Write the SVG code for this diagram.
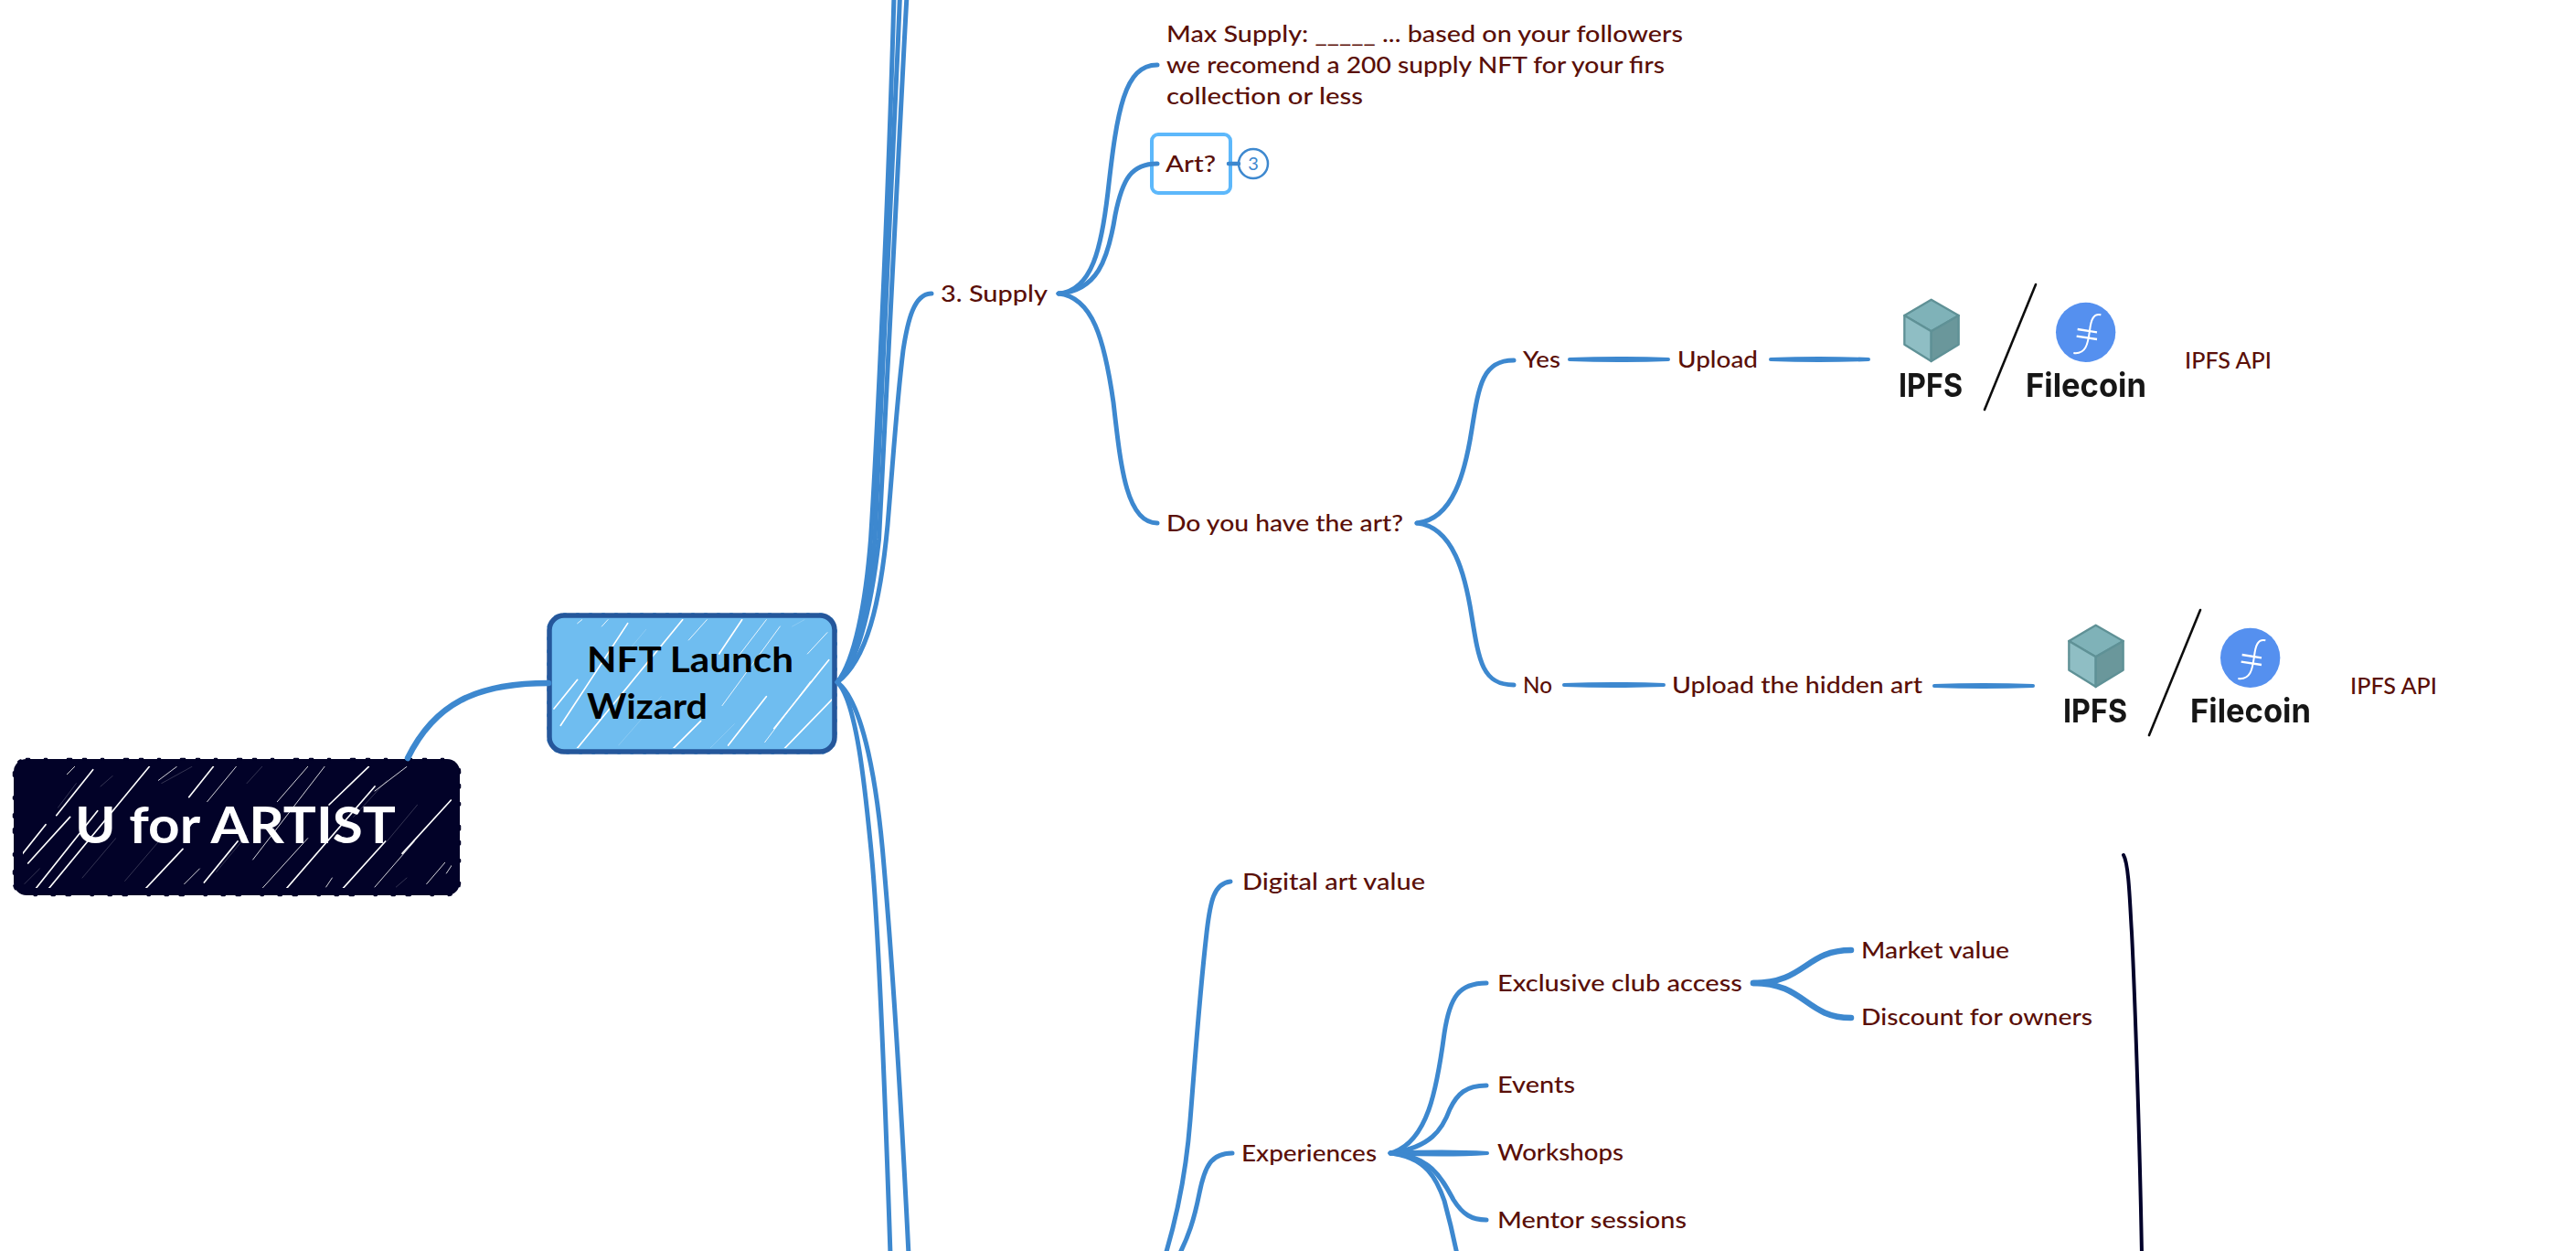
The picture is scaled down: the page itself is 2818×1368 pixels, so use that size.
<svg xmlns="http://www.w3.org/2000/svg" width="2818" height="1368" viewBox="0 0 2818 1368">
<style>
  text { font-family: "Lato", "Liberation Sans", sans-serif; }
  .lbl { font-size: 25px; fill: #5a0f08; font-weight: 500; }
  .ln { fill: none; stroke: #3d88cf; stroke-width: 5; stroke-linecap: round; }
  .th { stroke-width: 6.5; }
  .tp { fill: #3d88cf; stroke: #3d88cf; stroke-width: 4; stroke-linejoin: round; }
  .hatch line { stroke: #fff; stroke-linecap: round; stroke-width: 2.5; }
  .hatch .f { stroke-width: 1.2; opacity: .5; }
  .hatch .b { stroke-width: 5; }
  .logo-t { font-family: "Inter", "Liberation Sans", sans-serif; font-size: 36px; font-weight: 700; fill: #161616; }
</style>
<defs>
  <clipPath id="rootClip"><rect x="25" y="838" width="469" height="133"/></clipPath>
  <clipPath id="wizClip"><rect x="604" y="677" width="306" height="141" rx="14"/></clipPath>
  <filter id="soft" x="-5%" y="-5%" width="110%" height="110%"><feGaussianBlur stdDeviation="0.7"/></filter>
  <g id="ipfsFilecoin" filter="url(#soft)">
    <g transform="translate(2070,305) scale(0.33333)">
      <polygon points="128,68 218,120 128,172 40,120" fill="#7fb2b8" stroke="#5f9196" stroke-width="7" stroke-linejoin="round"/>
      <polygon points="40,120 128,172 128,270 40,215" fill="#8fbec4" stroke="#5f9196" stroke-width="7" stroke-linejoin="round"/>
      <polygon points="218,120 128,172 128,270 218,215" fill="#6a979b" stroke="#5f9196" stroke-width="7" stroke-linejoin="round"/>
      <circle cx="635" cy="175" r="98" fill="#5590ef"/>
      <path d="M685,118 C660,112 652,135 648,170 C642,215 635,248 595,243" fill="none" stroke="#fff" stroke-width="6"/>
      <path d="M608,165 L672,175 M605,188 L672,198" fill="none" stroke="#fff" stroke-width="7"/>
    </g>
    <line x1="2227" y1="311" x2="2171" y2="448" stroke="#111" stroke-width="2.6" stroke-linecap="round"/>
    <text class="logo-t" x="2077" y="434" textLength="70" lengthAdjust="spacingAndGlyphs">IPFS</text>
    <text class="logo-t" x="2216" y="434" textLength="132" lengthAdjust="spacingAndGlyphs">Filecoin</text>
  </g>
</defs>
<rect width="2818" height="1368" fill="#fff"/>

<!-- central topic -->
<g id="node-root">
  <rect x="15" y="830" width="488" height="149" rx="14" fill="#020228"/>
  <rect x="15" y="830" width="488" height="149" rx="14" fill="none" stroke="#020228" stroke-width="2.500" stroke-dasharray="3 17 2 23 4 13" stroke-linecap="round"/>
  <g clip-path="url(#rootClip)">
    <g class="hatch" transform="translate(10,820) scale(0.33333)">
      <line class="b" x1="38" y1="348" x2="120" y2="245"/>
      <line class="b" x1="62" y1="372" x2="200" y2="220"/>
      <line class="b" x1="155" y1="215" x2="275" y2="65"/>
      <line class="b" x1="130" y1="455" x2="460" y2="55"/>
      <line class="b" x1="85" y1="458" x2="290" y2="200"/>
      <line class="b" x1="445" y1="458" x2="570" y2="325"/>
      <line class="b" x1="640" y1="435" x2="750" y2="300"/>
      <line class="b" x1="590" y1="155" x2="670" y2="55"/>
      <line class="b" x1="1050" y1="180" x2="1180" y2="55"/>
      <line class="b" x1="910" y1="455" x2="1200" y2="120"/>
      <line class="b" x1="1095" y1="455" x2="1235" y2="300"/>
      <line class="b" x1="1290" y1="340" x2="1450" y2="165"/>
      <line x1="650" y1="170" x2="745" y2="55"/>
      <line x1="800" y1="360" x2="1035" y2="55"/>
      <line x1="830" y1="455" x2="980" y2="290"/>
      <line x1="880" y1="170" x2="980" y2="55"/>
      <line x1="1200" y1="450" x2="1330" y2="300"/>
      <line x1="1370" y1="440" x2="1430" y2="370"/>
      <line x1="1435" y1="405" x2="1455" y2="375"/>
      <line x1="490" y1="100" x2="550" y2="55"/>
      <line x1="190" y1="80" x2="215" y2="55"/>
      <line x1="1200" y1="135" x2="1305" y2="55"/>
      <line x1="575" y1="440" x2="625" y2="390"/>
      <line x1="1040" y1="450" x2="1060" y2="420"/>
      <line class="f" x1="160" y1="190" x2="220" y2="110"/>
      <line class="f" x1="300" y1="120" x2="340" y2="85"/>
      <line class="f" x1="380" y1="430" x2="500" y2="290"/>
      <line class="f" x1="240" y1="420" x2="350" y2="290"/>
      <line class="f" x1="500" y1="110" x2="600" y2="55"/>
      <line class="f" x1="780" y1="110" x2="830" y2="55"/>
      <line class="f" x1="1130" y1="220" x2="1240" y2="100"/>
      <line class="f" x1="50" y1="440" x2="100" y2="390"/>
      <line class="f" x1="1240" y1="300" x2="1340" y2="180"/>
      <line class="f" x1="680" y1="400" x2="780" y2="280"/>
      <line class="f" x1="1270" y1="450" x2="1305" y2="420"/>
    </g>
  </g>
  <text x="82" y="922" font-size="55" font-weight="700" fill="#fff" textLength="351" lengthAdjust="spacingAndGlyphs">U for ARTIST</text>
</g>

<!-- main branch -->
<g id="node-wizard">
  <rect x="601" y="673" width="312" height="149" rx="16" fill="#6fbdf0"/>
  <rect x="599" y="671" width="316" height="153" rx="18" fill="none" stroke="#6fbdf0" stroke-width="2" stroke-dasharray="2 12" stroke-linecap="round"/>
  <g clip-path="url(#wizClip)">
    <g class="hatch" transform="translate(590,665) scale(0.33333)">
      <line class="b" x1="48" y1="330" x2="125" y2="235"/>
      <line class="b" x1="70" y1="385" x2="290" y2="50"/>
      <line class="b" x1="120" y1="465" x2="470" y2="38"/>
      <line class="b" x1="435" y1="465" x2="530" y2="370"/>
      <line class="b" x1="620" y1="450" x2="745" y2="290"/>
      <line class="b" x1="590" y1="150" x2="665" y2="38"/>
      <line class="b" x1="805" y1="460" x2="960" y2="300"/>
      <line class="b" x1="770" y1="395" x2="950" y2="170"/>
      <line x1="640" y1="175" x2="745" y2="38"/>
      <line x1="490" y1="105" x2="550" y2="38"/>
      <line x1="205" y1="60" x2="225" y2="38"/>
      <line x1="600" y1="320" x2="790" y2="60"/>
      <line x1="880" y1="150" x2="945" y2="80"/>
      <line x1="125" y1="50" x2="140" y2="38"/>
      <line x1="740" y1="440" x2="890" y2="240"/>
      <line class="f" x1="300" y1="130" x2="350" y2="70"/>
      <line class="f" x1="170" y1="400" x2="300" y2="250"/>
      <line class="f" x1="560" y1="460" x2="640" y2="380"/>
      <line class="f" x1="830" y1="60" x2="870" y2="38"/>
      <line class="f" x1="260" y1="450" x2="400" y2="290"/>
    </g>
  </g>
  <rect x="601" y="673" width="312" height="149" rx="16" fill="none" stroke="#25579b" stroke-width="5.500"/>
  <text x="642" y="735" font-size="38" font-weight="700" fill="#000" textLength="226" lengthAdjust="spacingAndGlyphs">NFT Launch</text>
  <text x="642" y="786" font-size="38" font-weight="700" fill="#000" textLength="132" lengthAdjust="spacingAndGlyphs">Wizard</text>
</g>

<!-- subtopics -->
<g id="node-supply"><text class="lbl" x="1029" y="330" textLength="117" lengthAdjust="spacingAndGlyphs">3. Supply</text></g>
<g id="node-maxsupply">
  <text class="lbl" x="1276" y="46" textLength="565" lengthAdjust="spacingAndGlyphs">Max Supply: _____ ... based on your followers</text>
  <text class="lbl" x="1276" y="80" textLength="545" lengthAdjust="spacingAndGlyphs">we recomend a 200 supply NFT for your firs</text>
  <text class="lbl" x="1276" y="114" textLength="215" lengthAdjust="spacingAndGlyphs">collection or less</text>
</g>
<g id="node-art">
  <rect x="1260" y="147" width="86" height="64" rx="7" fill="#fff" stroke="#5db8fb" stroke-width="4"/>
  <text class="lbl" x="1275" y="188" textLength="55" lengthAdjust="spacingAndGlyphs">Art?</text>
</g>
<g id="node-art-count">
  <circle cx="1371" cy="179" r="16" fill="#fff" stroke="#3d88cf" stroke-width="2.500"/>
  <text x="1371" y="186" font-size="20" font-weight="400" fill="#3d88cf" text-anchor="middle">3</text>
</g>
<g id="node-haveart"><text class="lbl" x="1276" y="581" textLength="259" lengthAdjust="spacingAndGlyphs">Do you have the art?</text></g>
<g id="node-yes"><text class="lbl" x="1666" y="402" textLength="41" lengthAdjust="spacingAndGlyphs">Yes</text></g>
<g id="node-upload"><text class="lbl" x="1835" y="402" textLength="88" lengthAdjust="spacingAndGlyphs">Upload</text></g>
<g id="node-storage-a"><use href="#ipfsFilecoin"/></g>
<g id="node-api-a"><text class="lbl" x="2390" y="403" textLength="95" lengthAdjust="spacingAndGlyphs">IPFS API</text></g>
<g id="node-no"><text class="lbl" x="1666" y="758" textLength="32" lengthAdjust="spacingAndGlyphs">No</text></g>
<g id="node-upload-hidden"><text class="lbl" x="1829" y="758" textLength="274" lengthAdjust="spacingAndGlyphs">Upload the hidden art</text></g>
<g id="node-storage-b"><use href="#ipfsFilecoin" transform="translate(180,356)"/></g>
<g id="node-api-b"><text class="lbl" x="2571" y="759" textLength="95" lengthAdjust="spacingAndGlyphs">IPFS API</text></g>
<g id="node-digital"><text class="lbl" x="1359" y="973" textLength="200" lengthAdjust="spacingAndGlyphs">Digital art value</text></g>
<g id="node-experiences"><text class="lbl" x="1358" y="1270" textLength="148" lengthAdjust="spacingAndGlyphs">Experiences</text></g>
<g id="node-club"><text class="lbl" x="1638" y="1084" textLength="268" lengthAdjust="spacingAndGlyphs">Exclusive club access</text></g>
<g id="node-market"><text class="lbl" x="2036" y="1048" textLength="162" lengthAdjust="spacingAndGlyphs">Market value</text></g>
<g id="node-discount"><text class="lbl" x="2036" y="1121" textLength="253" lengthAdjust="spacingAndGlyphs">Discount for owners</text></g>
<g id="node-events"><text class="lbl" x="1638" y="1195" textLength="85" lengthAdjust="spacingAndGlyphs">Events</text></g>
<g id="node-workshops"><text class="lbl" x="1638" y="1269" textLength="138" lengthAdjust="spacingAndGlyphs">Workshops</text></g>
<g id="node-mentor"><text class="lbl" x="1638" y="1343" textLength="207" lengthAdjust="spacingAndGlyphs">Mentor sessions</text></g>

<g id="connectors">
  <path class="ln th" d="M446,829 C475,770 520,747 600,747"/>
  <!-- bundle leaving the wizard upward -->
  <path class="ln" d="M916,746 C935,722 947,660 952.500,590 C957,520 971,250 978,-5"/>
  <path class="ln" d="M916,746 C937,723 950,662 957,590 C961.500,520 974,250 984.500,-5"/>
  <path class="ln" d="M916,746 C938,725 953,665 961.500,590 C966,520 978,250 992,-5"/>
  <path class="ln" d="M916,746 C948,722 963,660 971,574 C978,490 981,440 988,383 C993,350 1000,321 1019,321"/>
  <!-- pair leaving the wizard downward -->
  <path class="ln" d="M917,747 C938,770 947,870 953,930 C961,1010 968,1190 974,1372"/>
  <path class="ln" d="M917,747 C945,770 960,860 967,947 C975,1040 985,1190 994,1372"/>
  <!-- supply branch -->
  <path class="ln" d="M1158,321 C1195,318 1205,270 1212,210 C1222,120 1230,71 1266,71"/>
  <path class="ln" d="M1158,321 C1200,318 1212,285 1220,235 C1228,195 1238,179 1266,179"/>
  <path class="ln" d="M1158,321 C1195,325 1208,370 1218,440 C1226,510 1232,572 1266,572"/>
  <path class="ln" style="stroke-width:4.500" d="M1344,179 L1355,179"/>
  <path class="ln" d="M1550,572 C1590,568 1603,515 1610,470 C1618,420 1622,394 1656,394"/>
  <path class="ln" d="M1550,572 C1590,576 1603,629 1610,674 C1618,724 1622,749 1656,749"/>
  <path class="tp" d="M1717,393 Q1770,391 1825,393 Q1770,395 1717,393 Z"/>
  <path class="tp" d="M1937,393 Q1990,391 2044,393 Q1990,395 1937,393 Z"/>
  <path class="tp" d="M1711,749 Q1765,747 1820,749 Q1765,751 1711,749 Z"/>
  <path class="tp" d="M2116,750 Q2170,748 2224,750 Q2170,752 2116,750 Z"/>
  <!-- lower branches -->
  <path class="ln" d="M1346,964 C1328,966 1324,985 1320,1020 C1312,1090 1308,1150 1302,1225 C1297,1290 1286,1335 1275,1372"/>
  <path class="ln" d="M1348,1261 C1325,1261 1318,1275 1312,1305 C1306,1335 1300,1352 1290,1372"/>
  <path class="ln" d="M1521,1261 C1562,1250 1572,1190 1580,1130 C1586,1090 1596,1075 1626,1075"/>
  <path class="ln" d="M1521,1261 C1565,1255 1578,1235 1586,1213 C1594,1196 1604,1187 1626,1187"/>
  <path class="tp" d="M1521,1261 Q1580,1258 1627,1261 Q1580,1264 1521,1261 Z"/>
  <path class="ln" d="M1521,1261 C1565,1263 1578,1290 1590,1312 C1600,1328 1610,1334 1626,1334"/>
  <path class="ln" d="M1521,1261 C1560,1265 1572,1290 1580,1313 C1586,1335 1590,1352 1594,1372"/>
  <path class="ln th" d="M1918,1075 C1975,1075 1975,1039 2025,1039"/>
  <path class="ln th" d="M1918,1075 C1975,1075 1975,1113 2025,1113"/>
  <path fill="none" stroke="#02022a" stroke-width="4" stroke-linecap="round" d="M2323,935 C2329,945 2330,990 2332,1020 C2336,1100 2341,1260 2343,1372"/>
</g>
</svg>
